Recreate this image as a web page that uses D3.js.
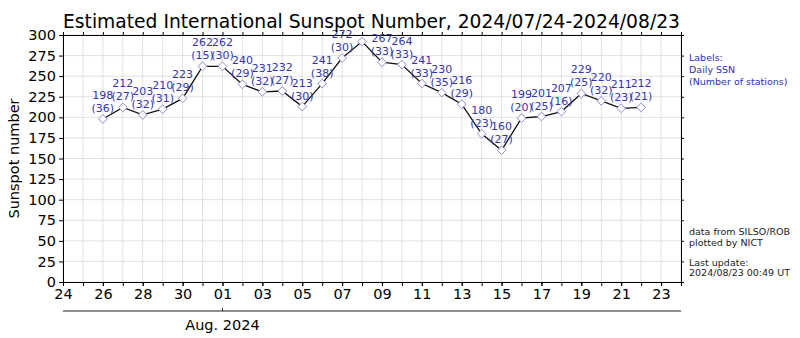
<!DOCTYPE html>
<html>
<head>
<meta charset="utf-8">
<script src="https://cdn.jsdelivr.net/npm/d3@7"></script>
<style>
  body { margin: 0; background: #fff; }
  svg { display: block; font-family: "DejaVu Sans", sans-serif; }
</style>
</head>
<body>
<svg id="chart" width="800" height="338"></svg>
<script>
// daily estimated SSN, Jul 26 .. Aug 22 2024
const days = [
  "2024-07-26", "2024-07-27", "2024-07-28", "2024-07-29", "2024-07-30", "2024-07-31",
  "2024-08-01", "2024-08-02", "2024-08-03", "2024-08-04", "2024-08-05", "2024-08-06",
  "2024-08-07", "2024-08-08", "2024-08-09", "2024-08-10", "2024-08-11", "2024-08-12",
  "2024-08-13", "2024-08-14", "2024-08-15", "2024-08-16", "2024-08-17", "2024-08-18",
  "2024-08-19", "2024-08-20", "2024-08-21", "2024-08-22"
];
const ssn = [198, 212, 203, 210, 223, 262, 262, 240, 231, 232, 213, 241,
             272, 292, 267, 264, 241, 230, 216, 180, 160, 199, 201, 207,
             229, 220, 211, 212];
// number of stations (label hidden for the peak day)
const stations = [36, 27, 32, 31, 29, 15, 30, 29, 32, 27, 30, 38,
                  30, null, 33, 33, 33, 35, 29, 23, 27, 20, 25, 16,
                  25, 32, 23, 21];
const yTicks = d3.range(0, 301, 25);
const titleText = "Estimated International Sunspot Number, 2024/07/24-2024/08/23";

const svg = d3.select("#chart");
const margin = {left: 63, right: 800 - 681, top: 35, bottom: 338 - 282};
const parse = d3.utcParse("%Y-%m-%d");
const data = days.map((d, i) => ({date: parse(d), v: ssn[i], n: stations[i]}));

const x = d3.scaleUtc()
    .domain([parse("2024-07-24"), parse("2024-08-24")])
    .range([margin.left, 681]);
const y = d3.scaleLinear()
    .domain([0, 300])
    .range([282, margin.top]);

const allDays = d3.utcDay.range(parse("2024-07-24"), parse("2024-08-25"));
const majorDays = allDays.filter((d, i) => i % 2 === 0 && d < parse("2024-08-24"));

// grid
const grid = svg.append("g").attr("stroke", "#d9d9d9").attr("stroke-width", 0.8);
grid.selectAll(".vg").data(allDays).enter().append("line")
    .attr("x1", d => x(d)).attr("x2", d => x(d))
    .attr("y1", y(0)).attr("y2", y(300));
grid.selectAll(".hg").data(yTicks).enter().append("line")
    .attr("x1", x.range()[0]).attr("x2", x.range()[1])
    .attr("y1", d => y(d)).attr("y2", d => y(d));

// axes
const fmtDay = d3.utcFormat("%d");
svg.append("g")
    .attr("transform", `translate(0,${y(0)})`)
    .call(d3.axisBottom(x).tickValues(allDays.slice(0, -1)).tickSize(4).tickFormat(""))
    .call(g => g.select(".domain").remove());
svg.append("g")
    .attr("transform", `translate(0,${y(0)})`)
    .call(d3.axisBottom(x).tickValues(majorDays).tickSize(4).tickPadding(3).tickFormat(fmtDay))
    .call(g => g.selectAll("text").attr("font-size", 14.5).attr("fill", "#000")
        .attr("font-family", "DejaVu Sans"));
svg.append("g")
    .attr("transform", `translate(0,${y(300)})`)
    .call(d3.axisTop(x).tickValues(allDays.slice(0, -1)).tickSize(3).tickFormat(""));
svg.append("g")
    .attr("transform", `translate(${margin.left},0)`)
    .call(d3.axisLeft(y).tickValues(yTicks).tickSize(4).tickPadding(3))
    .call(g => g.selectAll("text").attr("font-size", 14.5).attr("fill", "#000")
        .attr("font-family", "DejaVu Sans"));
svg.append("g")
    .attr("transform", `translate(681,0)`)
    .call(d3.axisRight(y).tickValues(yTicks).tickSize(3).tickFormat(""));

// month axis underneath
const monthY = 311;
svg.append("line")
    .attr("x1", x.range()[0]).attr("x2", x.range()[1])
    .attr("y1", monthY).attr("y2", monthY)
    .attr("stroke", "#222").attr("stroke-width", 1.2);
svg.append("line")
    .attr("x1", x(parse("2024-08-01"))).attr("x2", x(parse("2024-08-01")))
    .attr("y1", monthY).attr("y2", monthY - 3)
    .attr("stroke", "#222");
svg.append("text")
    .attr("x", x(parse("2024-08-01"))).attr("y", 330)
    .attr("text-anchor", "middle").attr("font-size", 14.5)
    .text("Aug. 2024");

// series
const line = d3.line().x(d => x(d.date)).y(d => y(d.v));
svg.append("path")
    .datum(data)
    .attr("fill", "none").attr("stroke", "#111").attr("stroke-width", 1.3)
    .attr("d", line);
svg.selectAll(".pt").data(data).enter().append("path")
    .attr("transform", d => `translate(${x(d.date)},${y(d.v)})`)
    .attr("d", d3.symbol(d3.symbolDiamond2, 48))
    .attr("fill", "#fff").attr("stroke", "#8c8cd0").attr("stroke-width", 1);

// labels, clipped under the title
svg.append("clipPath").attr("id", "labclip")
    .append("rect").attr("x", 0).attr("y", 30).attr("width", 800).attr("height", 300);
const labs = svg.append("g").attr("clip-path", "url(#labclip)")
    .attr("fill", "#3535a8").attr("font-size", 11).attr("text-anchor", "middle");
const shown = data.filter(d => d.n !== null);
labs.selectAll(".lv").data(shown).enter().append("text")
    .attr("x", d => x(d.date)).attr("y", d => y(d.v) - 20)
    .text(d => d.v);
labs.selectAll(".ln").data(shown).enter().append("text")
    .attr("x", d => x(d.date)).attr("y", d => y(d.v) - 7)
    .text(d => `(${d.n})`);

// title
svg.append("text")
    .attr("x", 63).attr("y", 28)
    .attr("font-size", 20)
    .attr("textLength", 617).attr("lengthAdjust", "spacingAndGlyphs")
    .text(titleText);

// y label
svg.append("text")
    .attr("transform", `translate(19,${(y(0) + y(300)) / 2}) rotate(-90)`)
    .attr("text-anchor", "middle").attr("font-size", 14.5)
    .text("Sunspot number");

// side notes
const note = svg.append("g").attr("font-size", 9.5);
note.selectAll(".bl").data(["Labels:", "Daily SSN", "(Number of stations)"])
    .enter().append("text")
    .attr("x", 689).attr("y", (d, i) => 61 + i * 12)
    .attr("fill", "#2f2fb0").text(d => d);
note.selectAll(".gr").data(["data from SILSO/ROB", "plotted by NICT", "", "Last update:", "2024/08/23 00:49 UT"])
    .enter().append("text")
    .attr("x", 689).attr("y", (d, i) => 235 + i * 10.5 + (i > 2 ? -1 : 0))
    .attr("fill", "#222").text(d => d);
</script>
</body>
</html>
